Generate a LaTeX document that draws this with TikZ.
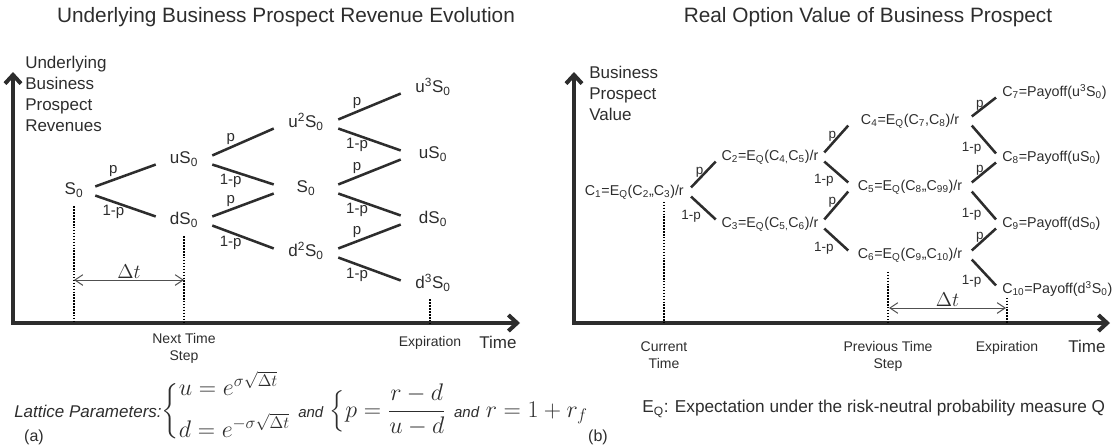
\RequirePackage{fix-cm}
\documentclass[tikz,border=0pt]{standalone}
\usepackage{amsmath}
\usepackage{fontspec}
\setmainfont{Liberation Sans}
\usetikzlibrary{arrows.meta}
\definecolor{ink}{RGB}{45,45,45}
\definecolor{spangray}{RGB}{80,80,80}

\begin{document}
\begin{tikzpicture}[x=0.75pt, y=-0.75pt,
  every node/.style={text=ink},
  axis/.style={draw=ink, line width=3pt, line join=miter,
    {Straight Barb[length=6.5pt,width=12pt]}-{Straight Barb[length=6.5pt,width=12pt]}},
  branch/.style={draw=ink, line width=1.9pt},
  guide/.style={draw=black, line width=1.1pt, dash pattern=on 1.1pt off 1.1pt},
  span/.style={draw=spangray, line width=0.75pt,
    {Straight Barb[length=6pt,width=8pt]}-{Straight Barb[length=6pt,width=8pt]}},
  title/.style={font=\fontsize{15.6pt}{18pt}\selectfont},
  ylab/.style={font=\fontsize{12.75pt}{15.75pt}\selectfont, align=left, inner sep=0pt, anchor=north west},
  tlab/.style={font=\fontsize{10.5pt}{12.75pt}\selectfont, align=center, inner sep=0pt, anchor=north},
  lnode/.style={font=\fontsize{12.75pt}{15pt}\selectfont, inner sep=0pt, anchor=mid, minimum width=#1},
  lnode/.default=48pt,
  rnode/.style={font=\fontsize{10.7pt}{13pt}\selectfont, inner sep=0pt},
  plab/.style={font=\fontsize{11.25pt}{13pt}\selectfont, inner sep=1.5pt},
  qlab/.style={font=\fontsize{10.1pt}{12pt}\selectfont, inner sep=1pt},
  dt/.style={font=\fontsize{15pt}{18pt}\selectfont, inner sep=0.5pt}]

  \useasboundingbox (0,0) rectangle (1112,447);

  % (a) Basiswert
  \node[title] (titleA) at (286,17) {Underlying Business Prospect Revenue Evolution};
  \node[ylab] (ylabA) at (25,56) {Underlying\\Business\\Prospect\\Revenues};

  \coordinate (yA) at (13,72);
  \coordinate (oA) at (13,323);
  \coordinate (xA) at (520,323);
  \draw[axis] (yA) -- (oA) -- (xA);

  \node[lnode=31.5pt] (s0) at (74,191) {S\textsubscript{0}};
  \node[lnode=42pt] (us1) at (184,160) {uS\textsubscript{0}};
  \node[lnode=42pt] (ds1) at (184,221) {dS\textsubscript{0}};
  \node[lnode] (uus2) at (306,124) {u\textsuperscript{2}S\textsubscript{0}};
  \node[lnode] (s2) at (306,189) {S\textsubscript{0}};
  \node[lnode] (dds2) at (306,253) {d\textsuperscript{2}S\textsubscript{0}};
  \node[lnode] (uuus3) at (433,89) {u\textsuperscript{3}S\textsubscript{0}};
  \node[lnode] (us3) at (433,155) {uS\textsubscript{0}};
  \node[lnode] (ds3) at (433,220) {dS\textsubscript{0}};
  \node[lnode] (ddds3) at (433,285) {d\textsuperscript{3}S\textsubscript{0}};

  \draw[branch] ([yshift=3.4pt]s0.mid east) -- ([yshift=-3.4pt]us1.mid west) node[plab, pos=0.3, above] {p};
  \draw[branch] ([yshift=-3.4pt]s0.mid east) -- ([yshift=3.4pt]ds1.mid west) node[plab, pos=0.3, below] {1-p};
  \draw[branch] ([yshift=3.4pt]us1.mid east) -- ([yshift=-3.4pt]uus2.mid west) node[plab, pos=0.3, above] {p};
  \draw[branch] ([yshift=-3.4pt]us1.mid east) -- ([yshift=3.4pt]s2.mid west) node[plab, pos=0.3, below] {1-p};
  \draw[branch] ([yshift=3.4pt]ds1.mid east) -- ([yshift=-3.4pt]s2.mid west) node[plab, pos=0.3, above] {p};
  \draw[branch] ([yshift=-3.4pt]ds1.mid east) -- ([yshift=3.4pt]dds2.mid west) node[plab, pos=0.3, below] {1-p};
  \draw[branch] ([yshift=3.4pt]uus2.mid east) -- ([yshift=-3.4pt]uuus3.mid west) node[plab, pos=0.3, above] {p};
  \draw[branch] ([yshift=-3.4pt]uus2.mid east) -- ([yshift=3.4pt]us3.mid west) node[plab, pos=0.3, below] {1-p};
  \draw[branch] ([yshift=3.4pt]s2.mid east) -- ([yshift=-3.4pt]us3.mid west) node[plab, pos=0.3, above] {p};
  \draw[branch] ([yshift=-3.4pt]s2.mid east) -- ([yshift=3.4pt]ds3.mid west) node[plab, pos=0.3, below] {1-p};
  \draw[branch] ([yshift=3.4pt]dds2.mid east) -- ([yshift=-3.4pt]ds3.mid west) node[plab, pos=0.3, above] {p};
  \draw[branch] ([yshift=-3.4pt]dds2.mid east) -- ([yshift=3.4pt]ddds3.mid west) node[plab, pos=0.3, below] {1-p};

  \coordinate (tA0) at (74,323);
  \coordinate (tA1) at (184,323);
  \coordinate (tA3) at (430,323);
  \draw[guide] (tA0 |- s0.south) ++(0,9) -- (tA0);
  \draw[guide] (tA1 |- ds1.south) ++(0,9) -- (tA1);
  \draw[guide] (tA3 |- ddds3.south) ++(0,8) -- (tA3);

  \coordinate (dtA0) at (74,280);
  \coordinate (dtA1) at (184,280);
  \draw[span] (dtA0) -- (dtA1) node[dt, midway, above] {$\Delta t$};

  \node[tlab] (nextA) at ([yshift=-7.5pt]tA1) {Next Time\\Step};
  \node[tlab] (expA) at ([yshift=-9.5pt]tA3) {Expiration};
  \node[font=\fontsize{12.75pt}{15pt}\selectfont] (timeA) at (498,342) {Time};

  \node[anchor=west, inner sep=0pt, font=\fontsize{18pt}{21pt}\selectfont] (lattice) at (14,411)
    {\delimiterfactor=700 \delimitershortfall=15pt
     {\fontsize{12.75pt}{15pt}\selectfont\itshape Lattice Parameters:}$\left\{\begin{array}{@{}l@{}}
      u = e^{\smash{\sigma\sqrt{\Delta t}}}\\[10.5pt] d = e^{\smash{-\sigma\sqrt{\Delta t}}}\end{array}\right.$
     {\fontsize{11.25pt}{13pt}\selectfont\itshape and}
     $\left\{p=\dfrac{r-d}{u-d}\right.$
     {\fontsize{11.25pt}{13pt}\selectfont\itshape and} $r=1+r_f$};
  \node[font=\fontsize{12pt}{14pt}\selectfont] (tagA) at (34,437) {(a)};

  % (b) Optionswert
  \node[title] (titleB) at (868,17) {Real Option Value of Business Prospect};
  \node[ylab] (ylabB) at (589,66) {Business\\Prospect\\Value};

  \coordinate (yB) at (574,72);
  \coordinate (oB) at (574,323);
  \coordinate (xB) at (1110,323);
  \draw[axis] (yB) -- (oB) -- (xB);

  \node[rnode, inner xsep=5.25pt, anchor=mid east] (c1) at (691,192)
    {C\textsubscript{1}=E\textsubscript{Q}(C\textsubscript{2},,C\textsubscript{3})/r};
  \node[rnode, minimum width=81pt, anchor=mid] (c2) at (770,157)
    {C\textsubscript{2}=E\textsubscript{Q}(C\textsubscript{4,}C\textsubscript{5})/r};
  \node[rnode, minimum width=81pt, anchor=mid] (c3) at (770,224)
    {C\textsubscript{3}=E\textsubscript{Q}(C\textsubscript{5,}C\textsubscript{6})/r};
  \node[rnode, minimum width=92.25pt, anchor=mid] (c4) at (910,121)
    {C\textsubscript{4}=E\textsubscript{Q}(C\textsubscript{7},C\textsubscript{8})/r};
  \node[rnode, minimum width=92.25pt, anchor=mid] (c5) at (910,187)
    {C\textsubscript{5}=E\textsubscript{Q}(C\textsubscript{8},,C\textsubscript{99})/r};
  \node[rnode, minimum width=92.25pt, anchor=mid] (c6) at (910,255)
    {C\textsubscript{6}=E\textsubscript{Q}(C\textsubscript{9},,C\textsubscript{10})/r};
  \node[rnode, inner xsep=4.5pt, anchor=mid west] (c7) at (996,93)
    {C\textsubscript{7}=Payoff(u\textsuperscript{3}S\textsubscript{0})};
  \node[rnode, inner xsep=4.5pt, anchor=mid west] (c8) at (996,158)
    {C\textsubscript{8}=Payoff(uS\textsubscript{0})};
  \node[rnode, inner xsep=4.5pt, anchor=mid west] (c9) at (996,224)
    {C\textsubscript{9}=Payoff(dS\textsubscript{0})};
  \node[rnode, inner xsep=4.5pt, anchor=mid west] (c10) at (996,290)
    {C\textsubscript{10}=Payoff(d\textsuperscript{3}S\textsubscript{0})};

  \draw[branch] ([yshift=3.4pt]c1.mid east) -- ([yshift=-3.4pt]c2.mid west) node[qlab, pos=0.6, left] {p};
  \draw[branch] ([yshift=-3.4pt]c1.mid east) -- ([yshift=3.4pt]c3.mid west) node[qlab, pos=0.5, below left] {1-p};
  \draw[branch] ([yshift=3.4pt]c2.mid east) -- ([yshift=-3.4pt]c4.mid west) node[qlab, pos=0.6, left] {p};
  \draw[branch] ([yshift=-3.4pt]c2.mid east) -- ([yshift=3.4pt]c5.mid west) node[qlab, pos=0.5, below left] {1-p};
  \draw[branch] ([yshift=3.4pt]c3.mid east) -- ([yshift=-3.4pt]c5.mid west) node[qlab, pos=0.6, left] {p};
  \draw[branch] ([yshift=-3.4pt]c3.mid east) -- ([yshift=3.4pt]c6.mid west) node[qlab, pos=0.5, below left] {1-p};
  \draw[branch] ([yshift=3.4pt]c4.mid east) -- ([yshift=-3.4pt]c7.mid west) node[qlab, pos=0.6, left] {p};
  \draw[branch] ([yshift=-3.4pt]c4.mid east) -- ([yshift=3.4pt]c8.mid west) node[qlab, pos=0.5, below left] {1-p};
  \draw[branch] ([yshift=3.4pt]c5.mid east) -- ([yshift=-3.4pt]c8.mid west) node[qlab, pos=0.6, left] {p};
  \draw[branch] ([yshift=-3.4pt]c5.mid east) -- ([yshift=3.4pt]c9.mid west) node[qlab, pos=0.5, below left] {1-p};
  \draw[branch] ([yshift=3.4pt]c6.mid east) -- ([yshift=-3.4pt]c9.mid west) node[qlab, pos=0.6, left] {p};
  \draw[branch] ([yshift=-3.4pt]c6.mid east) -- ([yshift=3.4pt]c10.mid west) node[qlab, pos=0.5, below left] {1-p};

  \coordinate (tB0) at (664,323);
  \coordinate (tB2) at (888,323);
  \coordinate (tB3) at (1007,323);
  \draw[guide] (tB0 |- c1.south) ++(0,2) -- (tB0);
  \draw[guide] (tB2 |- c6.south) ++(0,9) -- (tB2);
  \draw[guide] (tB3 |- c10.south) ++(0,1) -- (tB3);

  \coordinate (dtB0) at (889,308);
  \coordinate (dtB1) at (1006,308);
  \draw[span] (dtB0) -- (dtB1) node[dt, midway, above] {$\Delta t$};

  \node[tlab] (nowB) at ([yshift=-13.5pt]tB0) {Current\\Time};
  \node[tlab] (prevB) at ([yshift=-13.5pt]tB2) {Previous Time\\Step};
  \node[tlab] (expB) at ([yshift=-13.5pt]tB3) {Expiration};
  \node[font=\fontsize{12.75pt}{15pt}\selectfont] (timeB) at (1087,346) {Time};

  \node[anchor=west, inner sep=0pt, font=\fontsize{12.9pt}{15pt}\selectfont] (noteB) at (642,409)
    {E\textsubscript{Q}: Expectation under the risk-neutral probability measure Q};
  \node[font=\fontsize{12pt}{14pt}\selectfont] (tagB) at (598,437) {(b)};

\end{tikzpicture}
\end{document}
